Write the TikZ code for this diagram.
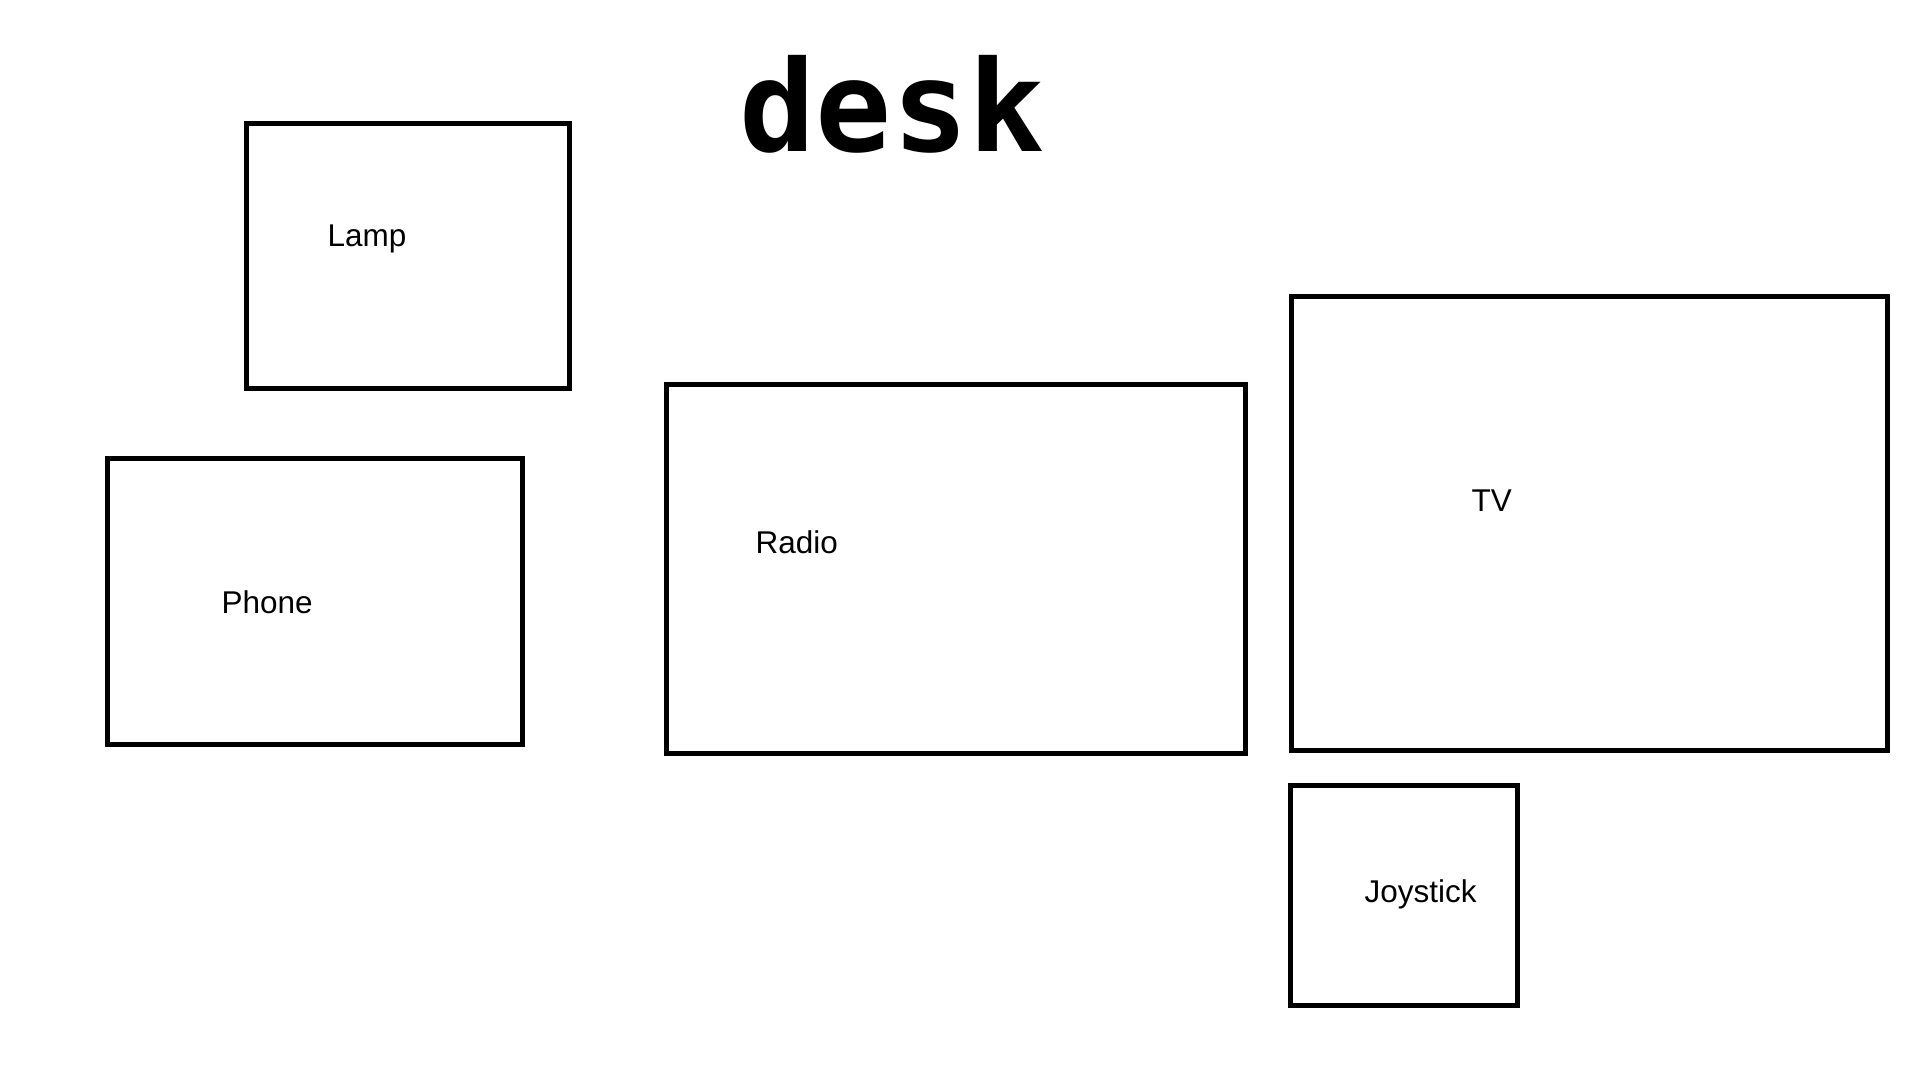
\documentclass[tikz,border=0pt]{standalone}
\usepackage{fontspec}
\setmainfont{Liberation Sans}
\newfontfamily\titlefont{DejaVu Sans Mono}
\begin{document}
\begin{tikzpicture}[x=0.01cm,y=-0.01cm,
  itembox/.style={draw=black,line width=0.5mm,rectangle,inner sep=0pt,outer sep=0pt,anchor=north west},
  itemlabel/.style={anchor=base west,inner sep=0pt,font=\fontsize{8.95pt}{10pt}\selectfont},
  titletext/.style={anchor=base west,inner sep=0pt,font=\titlefont\bfseries\fontsize{36pt}{40pt}\selectfont}]
\useasboundingbox[fill=white] (0,0) rectangle (1920,1080);
\node[titletext] (title) at (739,152) {desk};
\node[itembox,minimum width=3.225cm,minimum height=2.64cm] (lamp) at (246.5,124) {};
\node[itembox,minimum width=4.145cm,minimum height=2.86cm] (phone) at (107.5,458.5) {};
\node[itembox,minimum width=5.79cm,minimum height=3.69cm] (radio) at (666.5,384.5) {};
\node[itembox,minimum width=5.96cm,minimum height=4.54cm] (tv) at (1291.5,296.5) {};
\node[itembox,minimum width=2.265cm,minimum height=2.19cm] (joy) at (1290.5,786) {};
\node[itemlabel] (lampl) at (327,247) {Lamp};
\node[itemlabel] (phonel) at (221,614) {Phone};
\node[itemlabel] (radiol) at (755,554) {Radio};
\node[itemlabel] (tvl) at (1471,512) {TV};
\node[itemlabel] (joyl) at (1364,903) {Joystick};
\end{tikzpicture}
\end{document}
